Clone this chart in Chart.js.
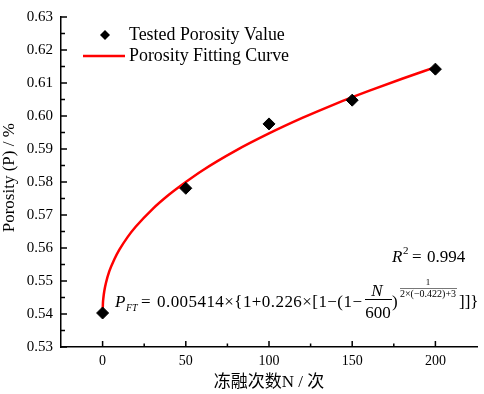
<!DOCTYPE html>
<html lang="zh-CN">
<head>
<meta charset="UTF-8">
<title>Porosity Fitting</title>
<script src="https://cdn.jsdelivr.net/npm/chart.js"></script>
<style>
    body { margin: 0; background: #fff; }
    #box { width: 484px; height: 394px; }
</style>
</head>
<body>
<div id="box"><canvas id="grafico"></canvas></div>

<script>
    // measured points
    var testN = [0, 50, 100, 150, 200];
    var testP = [0.5403, 0.5781, 0.5976, 0.6048, 0.6142];

    // fitting curve
    var curveN = [0, 0.2, 0.5, 1, 2, 4, 7, 10, 15, 20, 30, 40, 50, 60, 80, 100, 120, 140, 160, 180, 200];
    var curveP = [0.5400, 0.5433, 0.5450, 0.5469, 0.5494, 0.5529, 0.5565, 0.5594, 0.5633, 0.5665, 0.5718,
                  0.5762, 0.5800, 0.5835, 0.5895, 0.5947, 0.5994, 0.6037, 0.6076, 0.6113, 0.6148];

    // axes
    var xMajor = [0, 50, 100, 150, 200];
    var xMinor = [25, 75, 125, 175];
    var yMajor = [0.53, 0.54, 0.55, 0.56, 0.57, 0.58, 0.59, 0.60, 0.61, 0.62, 0.63];
    var yMinor = [0.535, 0.545, 0.555, 0.565, 0.575, 0.585, 0.595, 0.605, 0.615, 0.625];

    var serif = "'Liberation Serif', 'Times New Roman', serif";
    var cjk = "'Liberation Serif', 'Noto Sans CJK SC', serif";

    function pts(xs, ys) {
        var out = [];
        for (var i = 0; i < xs.length; i++) out.push({ x: xs[i], y: ys[i] });
        return out;
    }

    // draws text so it spans a given width
    function spread(ctx, txt, x, y, w) {
        var chars = Array.from(txt);
        var total = ctx.measureText(txt).width;
        var gap = (w - total) / (chars.length - 1);
        chars.forEach(function (c) {
            ctx.fillText(c, x, y);
            x += ctx.measureText(c).width + gap;
        });
    }

    // inward tick marks, legend and the formula text
    var extras = {
        id: 'extras',
        afterDraw: function (chart) {
            var ctx = chart.ctx;
            var sx = chart.scales.x, sy = chart.scales.y;
            var a = chart.chartArea;
            ctx.save();
            ctx.strokeStyle = '#000';
            ctx.lineWidth = 1.5;
            ctx.beginPath();
            xMajor.forEach(function (v) { var p = sx.getPixelForValue(v); ctx.moveTo(p, a.bottom); ctx.lineTo(p, a.bottom - 6); });
            xMinor.forEach(function (v) { var p = sx.getPixelForValue(v); ctx.moveTo(p, a.bottom); ctx.lineTo(p, a.bottom - 3.5); });
            yMajor.forEach(function (v) { var p = sy.getPixelForValue(v); ctx.moveTo(a.left, p); ctx.lineTo(a.left + 6, p); });
            yMinor.forEach(function (v) { var p = sy.getPixelForValue(v); ctx.moveTo(a.left, p); ctx.lineTo(a.left + 4, p); });
            ctx.stroke();

            // legend
            ctx.fillStyle = '#000';
            ctx.beginPath();
            ctx.moveTo(105, 30); ctx.lineTo(110, 35); ctx.lineTo(105, 40); ctx.lineTo(100, 35);
            ctx.closePath();
            ctx.fill();
            ctx.strokeStyle = '#ff0000';
            ctx.lineWidth = 2.5;
            ctx.beginPath();
            ctx.moveTo(83, 56); ctx.lineTo(125, 56);
            ctx.stroke();
            ctx.font = '17.9px ' + serif;
            ctx.textBaseline = 'alphabetic';
            ctx.fillText('Tested Porosity Value', 129, 40);
            ctx.fillText('Porosity Fitting Curve', 129, 61);

            // R^2
            ctx.font = 'italic 17px ' + serif;
            ctx.fillText('R', 392, 262);
            ctx.font = '11px ' + serif;
            ctx.fillText('2', 403, 254);
            ctx.font = '17px ' + serif;
            ctx.fillText('=', 412, 262);
            ctx.fillText('0.994', 427, 262);

            // fitting formula
            ctx.font = 'italic 17px ' + serif;
            ctx.fillText('P', 115, 307);
            ctx.font = 'italic 10px ' + serif;
            ctx.fillText('FT', 126, 311);
            ctx.font = '17px ' + serif;
            ctx.fillText('=', 141, 307);
            spread(ctx, '0.005414\u00d7{1+0.226\u00d7[1\u2212(1\u2212', 157, 307, 205);
            ctx.textAlign = 'center';
            ctx.font = 'italic 17px ' + serif;
            ctx.fillText('N', 377, 296);
            ctx.font = '17px ' + serif;
            ctx.fillText('600', 378, 318);
            ctx.textAlign = 'left';
            ctx.fillText(')', 392, 307);
            ctx.fillText(']]}', 459, 307);
            ctx.lineWidth = 1;
            ctx.strokeStyle = '#000';
            ctx.beginPath();
            ctx.moveTo(365, 299.5); ctx.lineTo(392, 299.5);
            ctx.stroke();
            ctx.lineWidth = 0.8;
            ctx.strokeStyle = '#555';
            ctx.beginPath();
            ctx.moveTo(400, 288.5); ctx.lineTo(457, 288.5);
            ctx.stroke();
            ctx.textAlign = 'center';
            ctx.font = '9px ' + serif;
            ctx.fillText('1', 428, 285);
            ctx.font = '10px ' + serif;
            ctx.fillText('2\u00d7(\u22120.422)+3', 428, 297);
            ctx.restore();
        }
    };

    const config = {
        type: 'scatter',
        data: {
            datasets: [{
                label: 'Tested Porosity Value',
                data: pts(testN, testP),
                pointStyle: 'rectRot',
                pointRadius: 6,
                backgroundColor: '#000',
                borderColor: '#000',
                order: 0
            }, {
                type: 'line',
                label: 'Porosity Fitting Curve',
                data: pts(curveN, curveP),
                borderColor: '#ff0000',
                borderWidth: 2.5,
                pointRadius: 0,
                fill: false,
                cubicInterpolationMode: 'monotone',
                order: 1
            }]
        },
        options: {
            responsive: true,
            maintainAspectRatio: false,
            animation: false,
            layout: { padding: { top: 9, right: 4, left: 0, bottom: 0 } },
            plugins: { legend: { display: false }, tooltip: { enabled: false } },
            scales: {
                x: {
                    type: 'linear',
                    min: -25,
                    max: 225,
                    afterBuildTicks: function (s) { s.ticks = xMajor.map(function (v) { return { value: v }; }); },
                    afterFit: function (s) { s.height = 47; },
                    grid: { display: false, drawTicks: false },
                    border: { display: true, color: '#000', width: 1.5 },
                    ticks: { padding: 6, color: '#000', font: { family: serif, size: 14 } },
                    title: {
                        display: true,
                        text: '冻融次数N / 次',
                        color: '#000',
                        font: { family: cjk, size: 17, lineHeight: 1 },
                        padding: { top: 0, bottom: 2.5 }
                    }
                },
                y: {
                    min: 0.53,
                    max: 0.63,
                    afterBuildTicks: function (s) { s.ticks = yMajor.map(function (v) { return { value: v }; }); },
                    afterFit: function (s) { s.width = 61; },
                    grid: { display: false, drawTicks: false },
                    border: { display: true, color: '#000', width: 1.5 },
                    ticks: {
                        padding: 8,
                        color: '#000',
                        font: { family: serif, size: 15 },
                        callback: function (v) { return v.toFixed(2); }
                    },
                    title: {
                        display: true,
                        // two leading spaces nudge the centred title up a little
                        text: '  Porosity (P) / %',
                        color: '#000',
                        font: { family: serif, size: 17, lineHeight: 1 },
                        padding: { top: 1, bottom: 0 }
                    }
                }
            }
        },
        plugins: [extras]
    };

    let myChart = new Chart(document.getElementById('grafico'), config);
</script>
</body>
</html>
